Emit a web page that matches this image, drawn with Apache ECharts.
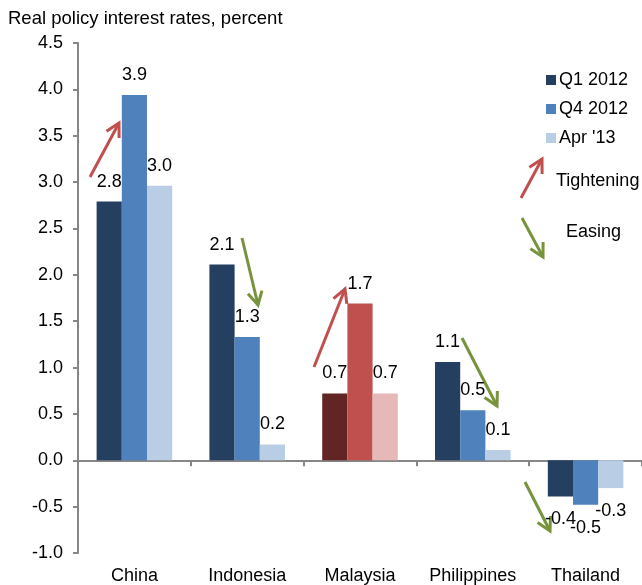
<!DOCTYPE html>
<html>
<head>
<meta charset="utf-8">
<script src="https://cdn.jsdelivr.net/npm/echarts@6/dist/echarts.min.js"></script>
<style>
  html, body { margin: 0; padding: 0; background: #fff; }
  #chart { width: 642px; height: 585px; }
</style>
</head>
<body>
<div id="chart"></div>
<script>
const countries = ['China', 'Indonesia', 'Malaysia', 'Philippines', 'Thailand']
const q1_2012 = [2.79, 2.11, 0.72, 1.06, -0.39]
const q4_2012 = [3.94, 1.33, 1.69, 0.54, -0.48]
const apr_13 = [2.96, 0.17, 0.72, 0.11, -0.30]
const yTicks = { min: -1.0, max: 4.5, step: 0.5 }

const font = '"Liberation Sans", Arial, sans-serif'
const blues = ['#243F60', '#4F81BD', '#B9CDE5']
const reds = ['#632523', '#C0504D', '#E6B9B8']
const RED = '#C0504D'
const GREEN = '#77933C'

function barSeries(name, values, idx) {
  return {
    name,
    type: 'bar',
    barGap: '0%',
    barCategoryGap: '33%',
    itemStyle: { color: blues[idx] },
    data: values.map((v, i) => ({
      value: v,
      itemStyle: countries[i] === 'Malaysia' ? { color: reds[idx] } : undefined,
      label: { position: v < 0 ? 'bottom' : 'top', distance: v < 0 ? 14 : 11 }
    })),
    label: {
      show: true,
      fontFamily: font,
      fontSize: 18,
      color: '#000',
      formatter: p => p.value.toFixed(1)
    }
  }
}

// annotation arrows (pixel positions)
const arrows = [
  [90, 177, 119, 123, RED],
  [242, 238, 258, 305, GREEN],
  [314, 367, 345, 289, RED],
  [462, 338, 497, 406, GREEN],
  [525, 482, 550, 531, GREEN],
  [521, 198, 542, 159, RED],
  [522, 218, 543, 257, GREEN]
]

function arrowGraphic([x1, y1, x2, y2, color]) {
  const a = Math.atan2(y2 - y1, x2 - x1)
  const len = 15, spread = 0.5
  const h1 = [x2 - len * Math.cos(a - spread), y2 - len * Math.sin(a - spread)]
  const h2 = [x2 - len * Math.cos(a + spread), y2 - len * Math.sin(a + spread)]
  const style = { stroke: color, lineWidth: 3, fill: null }
  return [
    { type: 'polyline', shape: { points: [[x1, y1], [x2, y2]] }, style },
    { type: 'polyline', shape: { points: [h1, [x2, y2], h2] }, style }
  ]
}

const chart = echarts.init(document.getElementById('chart'))
chart.setOption({
  animation: false,
  backgroundColor: '#fff',
  textStyle: { fontFamily: font },
  title: {
    text: 'Real policy interest rates, percent',
    left: 3,
    top: 4,
    textStyle: { fontFamily: font, fontSize: 18.5, fontWeight: 'normal', color: '#000' }
  },
  legend: {
    orient: 'vertical',
    left: 541,
    top: 66,
    itemWidth: 10,
    itemHeight: 10,
    itemGap: 11,
    icon: 'rect',
    textStyle: { fontFamily: font, fontSize: 18, color: '#000', padding: [0, 0, 0, -2] },
    data: ['Q1 2012', 'Q4 2012', "Apr '13"]
  },
  grid: { left: 78, top: 43, width: 567, height: 510, containLabel: false },
  xAxis: [
    {
      type: 'category',
      data: countries,
      axisLine: { onZero: true, lineStyle: { color: '#868686', width: 2 } },
      axisTick: { show: true, length: 6, lineStyle: { color: '#868686', width: 2 } },
      axisLabel: { show: false }
    },
    {
      type: 'category',
      data: countries,
      position: 'bottom',
      axisLine: { show: false, onZero: false },
      axisTick: { show: false },
      axisLabel: { interval: 0, fontFamily: font, fontSize: 18, color: '#000', margin: 14 }
    }
  ],
  yAxis: {
    type: 'value',
    min: yTicks.min,
    max: yTicks.max,
    interval: yTicks.step,
    splitLine: { show: false },
    axisLine: { show: true, lineStyle: { color: '#868686', width: 2 } },
    axisTick: { show: true, length: 5, lineStyle: { color: '#868686', width: 2 } },
    axisLabel: {
      fontFamily: font, fontSize: 18, color: '#000', margin: 15,
      formatter: v => v.toFixed(1)
    }
  },
  series: [
    barSeries('Q1 2012', q1_2012, 0),
    barSeries('Q4 2012', q4_2012, 1),
    barSeries("Apr '13", apr_13, 2)
  ],
  graphic: [
    ...arrows.flatMap(arrowGraphic),
    { type: 'text', left: 556, top: 172, style: { text: 'Tightening', font: '18px ' + font, fill: '#000' } },
    { type: 'text', left: 566, top: 223, style: { text: 'Easing', font: '18px ' + font, fill: '#000' } }
  ]
})
</script>
</body>
</html>
